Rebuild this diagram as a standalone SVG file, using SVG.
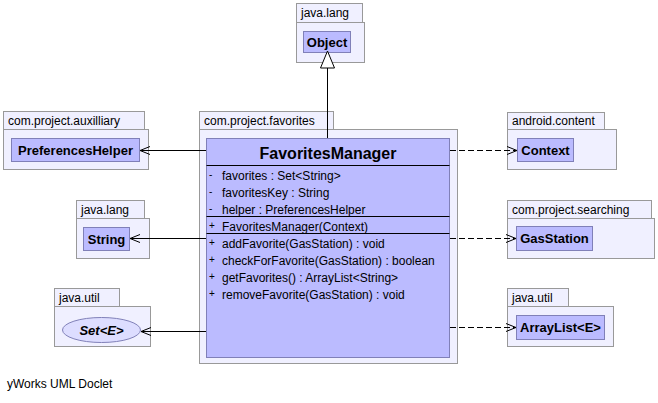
<svg xmlns="http://www.w3.org/2000/svg" width="658" height="403" viewBox="0 0 658 403">
<style>
text{font-family:"Liberation Sans",Arial,sans-serif;fill:#000}
.pkg{fill:#F0F0FF;stroke:#999999;stroke-width:1}
.pl{font-size:12px}
.cls{fill:#BBBBFF;stroke:#8080B8;stroke-width:1}
.cn{font-size:13px;font-weight:bold;text-anchor:middle}
.m{font-size:12px}
.sym{font-size:10px}
.ln{stroke:#000;stroke-width:1;fill:none}
.dash{stroke:#000;stroke-width:1;fill:none;stroke-dasharray:6,3}
</style>
<defs>
<marker id="open" markerUnits="userSpaceOnUse" markerWidth="12" markerHeight="12" refX="10" refY="6" orient="auto">
<path d="M0,2 L10,6 L0,10" fill="none" stroke="#000" stroke-width="1"/>
</marker>
</defs>
<rect x="0" y="0" width="658" height="403" fill="#FFFFFF"/>

<g id="pkg-java-lang-object">
<rect class="pkg" x="296.5" y="3.5" width="66" height="19"/>
<rect class="pkg" x="296.5" y="22.5" width="68" height="40"/>
<text class="pl" x="301" y="17">java.lang</text>
</g>
<g id="node-Object">
<rect class="cls" x="303.5" y="31.5" width="47" height="21"/>
<text class="cn" x="327" y="47">Object</text>
</g>

<g id="pkg-auxilliary">
<rect class="pkg" x="3.5" y="111.5" width="141" height="18"/>
<rect class="pkg" x="3.5" y="129.5" width="145" height="40"/>
<text class="pl" x="8" y="125">com.project.auxilliary</text>
</g>
<g id="node-PreferencesHelper">
<rect class="cls" x="11.5" y="138.5" width="128" height="23"/>
<text class="cn" x="75.5" y="155">PreferencesHelper</text>
</g>

<g id="pkg-java-lang-string">
<rect class="pkg" x="76.5" y="200.5" width="68" height="18"/>
<rect class="pkg" x="76.5" y="218.5" width="73" height="40"/>
<text class="pl" x="81" y="214">java.lang</text>
</g>
<g id="node-String">
<rect class="cls" x="83.5" y="227.5" width="46" height="23"/>
<text class="cn" x="106.5" y="244">String</text>
</g>

<g id="pkg-java-util-set">
<rect class="pkg" x="54.5" y="288.5" width="65" height="18"/>
<rect class="pkg" x="54.5" y="306.5" width="96" height="40"/>
<text class="pl" x="59" y="302">java.util</text>
</g>
<g id="node-Set">
<ellipse cx="101.5" cy="330" rx="39" ry="12.5" fill="#DDDDFF" stroke="#8080B8" stroke-width="1"/>
<text class="cn" x="101.5" y="335" font-style="italic">Set&lt;E&gt;</text>
</g>

<g id="pkg-favorites">
<rect class="pkg" x="199.5" y="111.5" width="134" height="18"/>
<rect class="pkg" x="199.5" y="129.5" width="258" height="234"/>
<text class="pl" x="204" y="125">com.project.favorites</text>
</g>
<g id="node-FavoritesManager">
<rect class="cls" x="206.5" y="138.5" width="243" height="219"/>
<text x="328" y="159" font-size="16" font-weight="bold" text-anchor="middle">FavoritesManager</text>
<line class="ln" x1="206.5" y1="165.5" x2="449.5" y2="165.5"/>
<text class="sym" x="209" y="178">-</text>
<text class="m" x="222" y="180">favorites : Set&lt;String&gt;</text>
<text class="sym" x="209" y="195">-</text>
<text class="m" x="222" y="197">favoritesKey : String</text>
<text class="sym" x="209" y="212">-</text>
<text class="m" x="222" y="214">helper : PreferencesHelper</text>
<line class="ln" x1="206.5" y1="216.5" x2="449.5" y2="216.5"/>
<text class="sym" x="209" y="229">+</text>
<text class="m" x="222" y="231">FavoritesManager(Context)</text>
<line class="ln" x1="206.5" y1="233.5" x2="449.5" y2="233.5"/>
<text class="sym" x="209" y="246">+</text>
<text class="m" x="222" y="248">addFavorite(GasStation) : void</text>
<text class="sym" x="209" y="263">+</text>
<text class="m" x="222" y="265">checkForFavorite(GasStation) : boolean</text>
<text class="sym" x="209" y="280">+</text>
<text class="m" x="222" y="282">getFavorites() : ArrayList&lt;String&gt;</text>
<text class="sym" x="209" y="297">+</text>
<text class="m" x="222" y="299">removeFavorite(GasStation) : void</text>
</g>

<g id="pkg-android-content">
<rect class="pkg" x="507.5" y="112.5" width="97" height="17"/>
<rect class="pkg" x="507.5" y="129.5" width="109" height="40"/>
<text class="pl" x="512" y="125">android.content</text>
</g>
<g id="node-Context">
<rect class="cls" x="517.5" y="138.5" width="56" height="23"/>
<text class="cn" x="545.5" y="155">Context</text>
</g>

<g id="pkg-searching">
<rect class="pkg" x="507.5" y="200.5" width="144" height="18"/>
<rect class="pkg" x="507.5" y="218.5" width="147" height="40"/>
<text class="pl" x="512" y="214">com.project.searching</text>
</g>
<g id="node-GasStation">
<rect class="cls" x="516.5" y="226.5" width="76" height="24"/>
<text class="cn" x="554.5" y="243">GasStation</text>
</g>

<g id="pkg-java-util-arraylist">
<rect class="pkg" x="507.5" y="288.5" width="61" height="18"/>
<rect class="pkg" x="507.5" y="306.5" width="106" height="40"/>
<text class="pl" x="512" y="302">java.util</text>
</g>
<g id="node-ArrayList">
<rect class="cls" x="516.5" y="315.5" width="88" height="24"/>
<text class="cn" x="560.5" y="332">ArrayList&lt;E&gt;</text>
</g>

<g id="connectors">
<line class="ln" x1="327.5" y1="138" x2="327.5" y2="68"/>
<polygon points="327.5,51 320.5,68 334.5,68" fill="#FFFFFF" stroke="#000" stroke-width="1"/>
<line class="ln" x1="206" y1="150.5" x2="140" y2="150.5" marker-end="url(#open)"/>
<line class="ln" x1="206" y1="238.5" x2="130" y2="238.5" marker-end="url(#open)"/>
<line class="ln" x1="206" y1="331.5" x2="141" y2="331.5" marker-end="url(#open)"/>
<line class="dash" x1="450" y1="150.5" x2="517" y2="150.5" marker-end="url(#open)"/>
<line class="dash" x1="450" y1="238.5" x2="516" y2="238.5" marker-end="url(#open)"/>
<line class="dash" x1="450" y1="327.5" x2="516" y2="327.5" marker-end="url(#open)"/>
</g>

<text class="m" x="7" y="388">yWorks UML Doclet</text>
</svg>
